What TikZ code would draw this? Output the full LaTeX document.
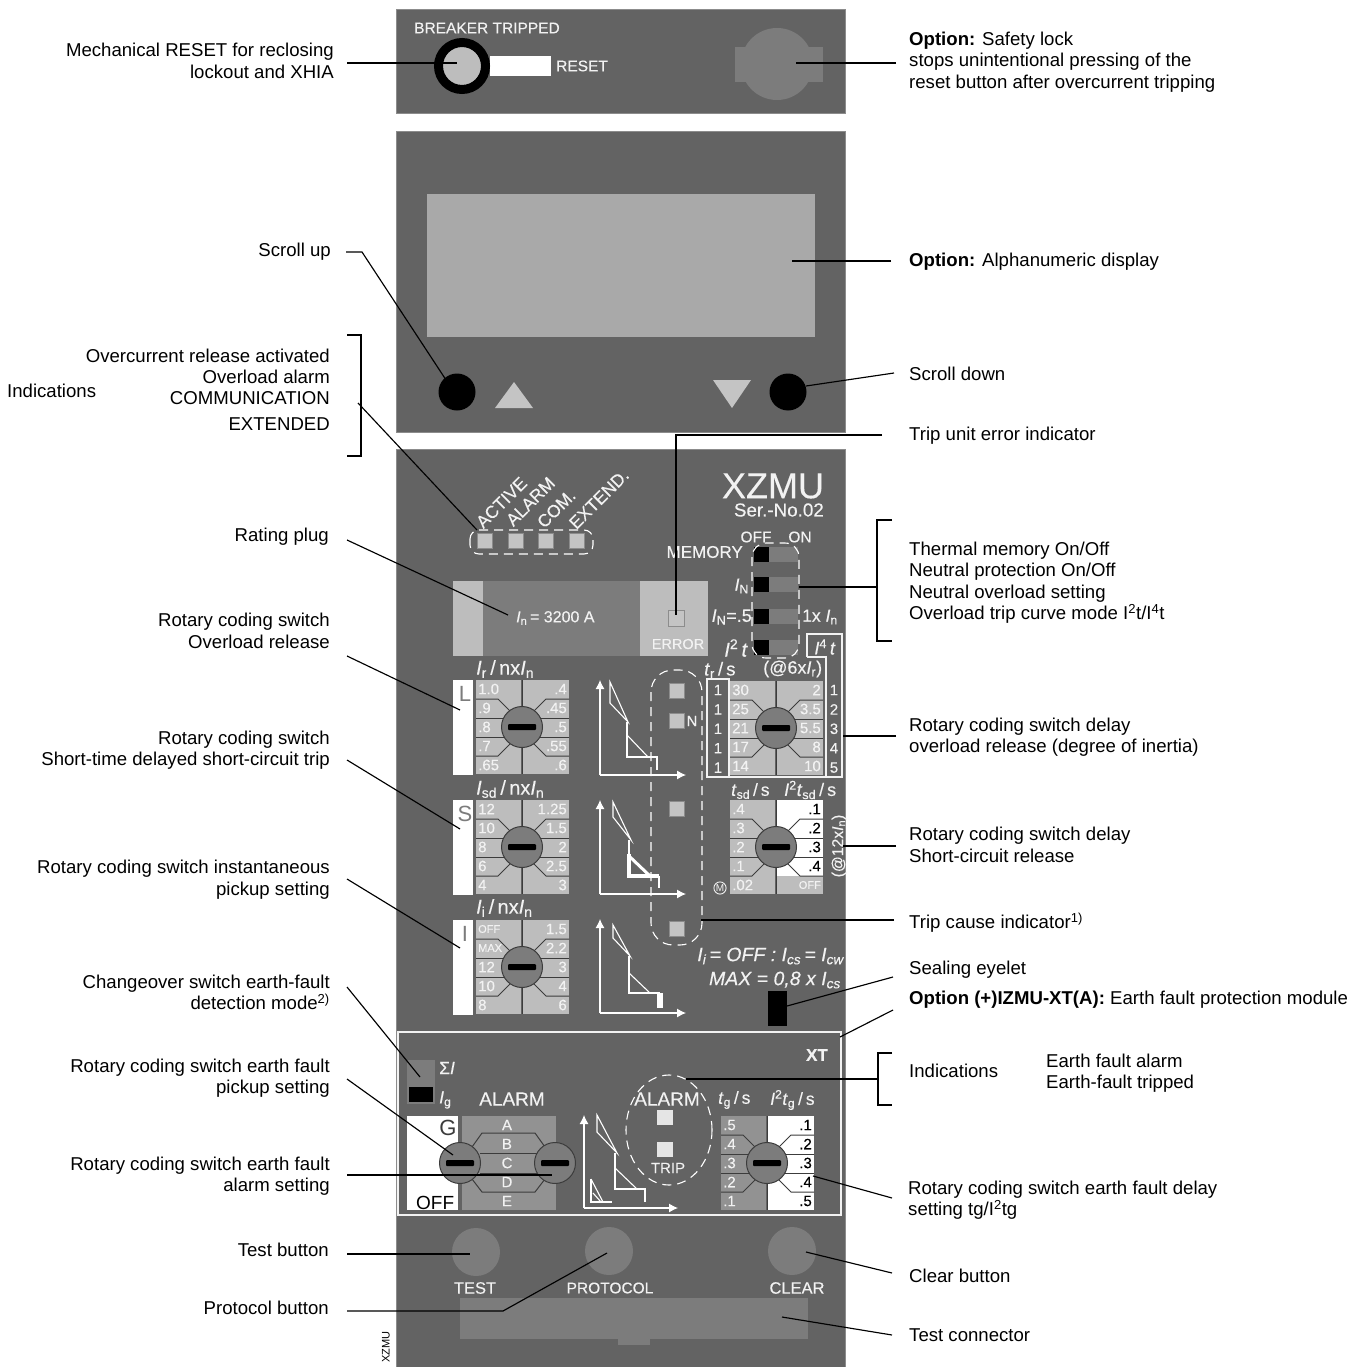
\documentclass[tikz,border=0pt]{standalone}
\usepackage{fontspec}
\setmainfont{Liberation Sans}
\newfontfamily\pf[FakeBold=0.25]{Liberation Sans}
\usetikzlibrary{arrows.meta}
\definecolor{panel}{HTML}{636363}
\definecolor{edge}{HTML}{8C8C8C}
\definecolor{midg}{HTML}{7C7C7C}
\definecolor{cellg}{HTML}{BDBDBD}
\definecolor{gcell}{HTML}{929292}
\definecolor{disp}{HTML}{A9A9A9}
\definecolor{ledg}{HTML}{C4C4C4}
\definecolor{ptext}{HTML}{F2F2F2}
\definecolor{divd}{HTML}{3C3C3C}
\newcommand\lab{\fontsize{18.6}{21.4}\selectfont}
\newcommand\ptA{\fontsize{15}{17}\selectfont}
\newcommand\ptB{\fontsize{17.5}{19}\selectfont}
\newcommand\ptC{\fontsize{15.7}{17}\selectfont}
\newcommand\ptD{\fontsize{20}{22}\selectfont}
\newcommand\isb[2]{\textit{#1}\textsubscript{#2}}
\tikzset{
  x=1pt,y=-1pt,
  lableft/.style={anchor=east,align=right,inner sep=0pt,font=\lab,text=black},
  labright/.style={anchor=west,align=left,inner sep=0pt,font=\lab,text=black},
  ptxt/.style={inner sep=0pt,text=ptext,font=\ptA,execute at begin node=\pf},
  panelbox/.style={fill=panel,draw=edge,line width=0.8pt},
  ledsq/.style={fill=ledg,draw=edge,line width=0.5pt},
  leaderline/.style={draw=black,line width=1.15pt},
  dashwhite/.style={draw=white,line width=1.1pt,dash pattern=on 9pt off 6pt},
  axisline/.style={draw=white,line width=1.1pt,-{Latex[length=9pt,width=9pt]},shorten <=0pt},
  curveline/.style={draw=white,line width=1.1pt},
  divline/.style={draw=divd,line width=1pt},
}
\newcommand\rotbase[8]{%
  \begin{scope}[shift={(#2,#3)}]
    \fill[#4] (-46,-47) rectangle (-1,47);
    \fill[#5] (1,-47) rectangle (47,47);
    #8
    \draw[divline] (0,-47) -- (0,-18) (0,18) -- (0,47);
    \draw[divline] (-46,-28) -- (-24,-28) -- (-12,-16);
    \draw[divline] (-46,-9) -- (-18,-9);
    \draw[divline] (-46,10) -- (-18,10);
    \draw[divline] (-46,29) -- (-24,29) -- (-12,17);
    \draw[divline] (47,-28) -- (24,-28) -- (12,-16);
    \draw[divline] (47,-9) -- (18,-9);
    \draw[divline] (47,10) -- (18,10);
    \draw[divline] (47,29) -- (24,29) -- (12,17);
    \node[name=#1-knob,circle,minimum size=41pt,inner sep=0pt,fill=midg,draw=divd,line width=1pt] at (0,0) {};
    \fill[black,rounded corners=1pt] (-14,-3) rectangle (14,3);
  \end{scope}}
\newcommand\rotlab[7]{%
  \foreach \t [count=\i] in {#6} {\node[ptxt,anchor=west,text=#4,name=#1-l\i] at ({#2-44},{#3-38+19*(\i-1)}) {\t};}
  \foreach \t [count=\i] in {#7} {\node[ptxt,anchor=east,text=#5,name=#1-r\i] at ({#2+45},{#3-38+19*(\i-1)}) {\t};}}
\newcommand\leader[3]{%
  \coordinate (#1-a) at (#2);
  \coordinate (#1-b) at (#3);
  \draw[leaderline] (#1-a) -- (#1-b);}
\begin{document}
\begin{tikzpicture}
\useasboundingbox (0,0) rectangle (1358,1367);
\fill[white] (0,0) rectangle (1358,1367);
% ---- panels
\draw[panelbox] (396,9) rectangle (845,113);
\draw[panelbox] (396,131) rectangle (845,432);
\draw[panelbox] (396,449) rectangle (845,1368);
% ---- top panel
\node[ptxt,anchor=west,font=\fontsize{15.5}{17}\selectfont,name=brk] at (414,28) {BREAKER TRIPPED};
\fill[white] (490,56) rectangle (551,76);
\node[circle,minimum size=47pt,inner sep=0pt,fill=cellg,draw=black,line width=9pt,name=resetbtn] at (462,66) {};
\node[ptxt,anchor=west,font=\fontsize{15.5}{17}\selectfont,name=rst] at (556,66) {RESET};
\fill[midg] (735,47) rectangle (823,82);
\node[circle,minimum size=72pt,inner sep=0pt,fill=midg,name=lockc] at (777,64) {};
% ---- display panel
\fill[disp] (427,194) rectangle (815,337);
\node[circle,minimum size=37pt,inner sep=0pt,fill=black,name=scup] at (457,392) {};
\node[circle,minimum size=37pt,inner sep=0pt,fill=black,name=scdn] at (788,392) {};
\fill[ledg] (514,382) -- (495,408) -- (533,408) -- cycle;
\fill[ledg] (713,380) -- (751,380) -- (732,408) -- cycle;
% ---- trip unit head
\node[ptxt,anchor=center,font=\fontsize{36}{38}\selectfont,name=xzmu] at (773,486) {XZMU};
\node[ptxt,anchor=east,font=\fontsize{18.8}{20}\selectfont,name=serno] at (824,510) {Ser.-No.02};
\node[ptxt,anchor=west,rotate=45,font=\fontsize{17.5}{19}\selectfont,name=t-act] at (479,525) {ACTIVE};
\node[ptxt,anchor=west,rotate=45,font=\fontsize{17.5}{19}\selectfont,name=t-alm] at (509,523) {ALARM};
\node[ptxt,anchor=west,rotate=45,font=\fontsize{17.5}{19}\selectfont,name=t-com] at (540,525) {COM.};
\node[ptxt,anchor=west,rotate=45,font=\fontsize{17.5}{19}\selectfont,name=t-ext] at (572,526) {EXTEND.};
\foreach \x in {477,508,538,569}{\draw[ledsq] (\x,533) rectangle ++(15,15);}
\draw[dashwhite,rounded corners=9pt] (470,530) rectangle (593,554);
% rating plug
\fill[midg] (453,581) rectangle (708,656);
\fill[cellg] (453,581) rectangle (483,656);
\fill[cellg] (640,581) rectangle (708,656);
\node[ptxt,anchor=west,font=\fontsize{16}{18}\selectfont,name=ratingtxt] at (516,618) {\isb{I}{n}\,= 3200 A};
\draw[ledsq] (668,610) rectangle (684,626);
\node[ptxt,anchor=center,font=\fontsize{14.5}{16}\selectfont,name=errtxt] at (678,644) {ERROR};
% toggles
\foreach \y in {547,577,609,640}{
  \fill[midg] (769,\y) rectangle (798,\y+14.5);
  \fill[black] (754,\y) rectangle (769,\y+14.5);
}
\node[ptxt,anchor=east,font=\fontsize{17}{19}\selectfont,name=memt] at (743,552) {MEMORY};
\node[ptxt,anchor=center,font=\fontsize{15.5}{17}\selectfont,name=offt] at (756,537) {OFF};
\node[ptxt,anchor=center,font=\fontsize{15.5}{17}\selectfont,name=ont] at (800,537) {ON};
\node[ptxt,anchor=east,font=\ptB,name=int] at (749,586) {\isb{I}{N}};
\node[ptxt,anchor=east,font=\fontsize{18}{20}\selectfont,name=in5] at (752,617) {\isb{I}{N}=.5};
\node[ptxt,anchor=west,font=\fontsize{17.5}{19}\selectfont,name=onex] at (802,617) {1x \isb{I}{n}};
\node[ptxt,anchor=east,font=\fontsize{20}{22}\selectfont,name=i2t] at (748,648) {\textit{I}\textsuperscript{2}\,\textit{t}};
\draw[dashwhite,rounded corners=14pt] (752,543) rectangle (799,658);
% I4t box
\draw[draw=ptext,line width=1.2pt] (807,657) -- (807,634) -- (842,634) -- (842,777) -- (707,777) -- (707,679) -- (729,679) -- (729,777);
\draw[draw=ptext,line width=1.2pt] (807,657) -- (826,657) -- (826,777);
\node[ptxt,anchor=center,font=\fontsize{18}{20}\selectfont,name=i4t] at (825,647) {\textit{I}\textsuperscript{4}\,\textit{t}};
\foreach \i in {0,...,4}{
  \node[ptxt,anchor=center,name=one\i] at (718,{690+19.4*\i}) {1};
  \pgfmathtruncatemacro{\k}{\i+1}
  \node[ptxt,anchor=center,name=num\i] at (834,{690+19.4*\i}) {\k};
}
\node[ptxt,anchor=west,font=\fontsize{18.6}{20}\selectfont,name=trs] at (704,670) {\isb{t}{r}\,/\,s};
\node[ptxt,anchor=west,font=\fontsize{18}{20}\selectfont,name=at6] at (763,669) {(@6x\isb{I}{r})};
% ---- L S I columns
\foreach \nm/\y/\l in {colL/680/L,colS/800/S,colI/920/I}{
  \fill[white] (453,\y) rectangle (473,\y+95);
  \node[inner sep=0pt,text=midg,font=\fontsize{22}{24}\selectfont,name=\nm] at (465,\y+14) {\l};
}
\rotbase{swL}{522}{727}{cellg}{cellg}{ptext}{ptext}{}
\rotlab{swL}{522}{727}{ptext}{ptext}{1.0,.9,.8,.7,.65}{.4,.45,.5,.55,.6}
\rotbase{swS}{522}{847}{cellg}{cellg}{ptext}{ptext}{}
\rotlab{swS}{522}{847}{ptext}{ptext}{12,10,8,6,4}{1.25,1.5,2,2.5,3}
\rotbase{swI}{522}{967}{cellg}{cellg}{ptext}{ptext}{}
\rotlab{swI}{522}{967}{ptext}{ptext}{\fontsize{11}{12}\selectfont OFF,\fontsize{11}{12}\selectfont MAX,12,10,8}{1.5,2.2,3,4,6}
\rotbase{swT}{776}{728}{cellg}{cellg}{ptext}{ptext}{}
\rotlab{swT}{776}{728}{ptext}{ptext}{30,25,21,17,14}{2,3.5,5.5,8,10}
\rotbase{swD}{776}{847}{cellg}{white}{black}{ptext}{\fill[cellg] (1,29) rectangle (47,47);}
\rotlab{swD}{776}{847}{ptext}{black}{.4,.3,.2,.1,.02}{.1,.2,.3,.4,{\textcolor{ptext}{\fontsize{11}{12}\selectfont OFF}}}
\node[ptxt,anchor=west,font=\ptD,name=irt] at (476,669) {\isb{I}{r}\,/\,nx\isb{I}{n}};
\node[ptxt,anchor=west,font=\ptD,name=isdt] at (476,789) {\isb{I}{sd}\,/\,nx\isb{I}{n}};
\node[ptxt,anchor=west,font=\ptD,name=iit] at (476,908) {\isb{I}{i}\,/\,nx\isb{I}{n}};
\node[ptxt,anchor=west,font=\ptB,name=tsdt] at (731,791) {\isb{t}{sd}\,/\,s};
\node[ptxt,anchor=west,font=\fontsize{18}{20}\selectfont,name=i2tsdt] at (784,790) {\textit{I}\textsuperscript{2}\isb{t}{sd}\,/\,s};
\node[ptxt,anchor=center,rotate=90,font=\ptC,name=at12] at (839,846) {(@12x\isb{I}{n})};
\node[circle,draw=ptext,line width=0.9pt,inner sep=0.5pt,text=ptext,font=\fontsize{10}{11}\selectfont,name=msym] at (720,888) {M};
% ---- trip curves
\begin{scope}[shift={(600,775)}]
  \draw[axisline] (0,0) -- (0,-95);
  \draw[axisline] (0,0) -- (86,0);
  \draw[curveline] (10,-93) -- (10,-72) -- (28,-53) -- cycle;
  \draw[curveline] (27,-53) -- (27,-18) -- (57,-18) -- (57,-5);
  \draw[curveline] (27,-40) -- (48,-18);
\end{scope}
\begin{scope}[shift={(600,894)}]
  \draw[axisline] (0,0) -- (0,-94);
  \draw[axisline] (0,0) -- (86,0);
  \draw[curveline] (13,-92) -- (13,-77) -- (31,-54) -- cycle;
  \draw[curveline] (29,-54) -- (29,-40);
  \draw[curveline,line width=3.4pt] (29,-40) -- (29,-18) -- (59,-18);
  \draw[curveline,line width=3pt] (29,-38) -- (50,-18);
  \draw[curveline] (59,-18) -- (59,-6);
\end{scope}
\begin{scope}[shift={(600,1013)}]
  \draw[axisline] (0,0) -- (0,-94);
  \draw[axisline] (0,0) -- (86,0);
  \draw[curveline] (13,-88) -- (13,-75) -- (30,-57) -- cycle;
  \draw[curveline] (29,-57) -- (29,-20) -- (60,-20);
  \draw[curveline] (29,-40) -- (50,-20);
  \fill[white] (57,-20) rectangle (63,-5);
\end{scope}
% dashed trip cause group
\draw[dashwhite,rounded corners=22pt] (651,670) rectangle (702,945);
\foreach \y in {683,713,801,921}{\draw[ledsq] (669,\y) rectangle ++(15,15);}
\node[ptxt,anchor=center,name=nled] at (692,721) {N};
% formulas
\node[ptxt,anchor=east,font=\fontsize{19.5}{21}\itshape\selectfont,name=fm1] at (844,956) {\isb{I}{i}\,= OFF : \isb{I}{cs}\,= \isb{I}{cw}};
\node[ptxt,anchor=east,font=\fontsize{19.5}{21}\itshape\selectfont,name=fm2] at (841,980) {MAX = 0,8 x \isb{I}{cs}};
\fill[black] (768,991) rectangle (787,1026);
\coordinate (eyelet) at (787,1006);
% ---- XT module
\draw[draw=ptext,line width=1.5pt] (398,1032) rectangle (841,1215);
\node[ptxt,anchor=east,font=\bfseries\fontsize{17}{19}\selectfont,name=xtt] at (828,1055) {XT};
\fill[midg] (407,1060) rectangle (435,1104);
\fill[black] (409,1087) rectangle (433,1102);
\node[ptxt,anchor=west,font=\ptB,name=sigi] at (439,1068) {Σ\textit{I}};
\node[ptxt,anchor=west,font=\ptB,name=igt] at (439,1100) {\isb{I}{g}};
\fill[white] (407,1116) rectangle (458,1210);
\fill[gcell] (462,1116) rectangle (556,1210);
\node[inner sep=0pt,text=divd,font=\fontsize{22}{24}\selectfont,name=gtxt] at (448,1128) {G};
\node[inner sep=0pt,text=black,font=\fontsize{19}{21}\selectfont,anchor=west,name=offg] at (416,1203) {OFF};
\draw[divline] (472,1147) -- (482,1133) -- (535,1133) -- (545,1147);
\draw[divline] (472,1179) -- (482,1192) -- (535,1192) -- (545,1179);
\draw[divline] (480,1153) -- (537,1153);
\draw[divline] (480,1173) -- (537,1173);
\foreach \t [count=\i] in {A,B,C,D,E}{\node[ptxt,anchor=center,name=gl\i] at (507,{1125+19*(\i-1)}) {\t};}
\node[circle,minimum size=41pt,inner sep=0pt,fill=midg,draw=divd,line width=1pt,name=knobG] at (460,1163) {};
\fill[black,rounded corners=1pt] (446,1160) rectangle (474,1166);
\node[circle,minimum size=41pt,inner sep=0pt,fill=midg,draw=divd,line width=1pt,name=knobH] at (555,1163) {};
\fill[black,rounded corners=1pt] (541,1160) rectangle (569,1166);
\node[ptxt,anchor=center,font=\fontsize{19}{21}\selectfont,name=alm1] at (512,1099) {ALARM};
\begin{scope}[shift={(584,1208)}]
  \draw[axisline] (0,0) -- (0,-93);
  \draw[axisline] (0,0) -- (94,0);
  \draw[curveline] (13,-93) -- (13,-76) -- (33,-55) -- cycle;
  \draw[curveline] (31,-55) -- (31,-19) -- (61,-19) -- (61,-6);
  \draw[curveline] (31,-40) -- (53,-19);
  \draw[curveline] (7,-29) -- (7,-6) -- (28,-6);
  \draw[curveline] (7,-29) -- (19,-6);
  \draw[curveline] (9,-15) -- (17,-6);
\end{scope}
\draw[dashwhite] (669,1130) ellipse (43pt and 55pt);
\node[ptxt,anchor=center,font=\fontsize{19}{21}\selectfont,name=alm2] at (667,1099) {ALARM};
\fill[white!90!black] (657,1110) rectangle (673,1125);
\fill[white!90!black] (657,1142) rectangle (673,1157);
\node[ptxt,anchor=center,name=trpt] at (668,1168) {TRIP};
\node[ptxt,anchor=west,font=\ptB,name=tgs] at (718,1100) {\isb{t}{g}\,/\,s};
\node[ptxt,anchor=west,font=\ptB,name=i2tgs] at (770,1100) {\textit{I}\textsuperscript{2}\isb{t}{g}\,/\,s};
\rotbase{swG}{767}{1163}{gcell}{white}{black}{ptext}{}
\rotlab{swG}{767}{1163}{ptext}{black}{.5,.4,.3,.2,.1}{.1,.2,.3,.4,.5}
% ---- bottom buttons
\node[circle,minimum size=48pt,inner sep=0pt,fill=midg,name=btnT] at (476,1252) {};
\node[circle,minimum size=48pt,inner sep=0pt,fill=midg,name=btnP] at (609,1251) {};
\node[circle,minimum size=48pt,inner sep=0pt,fill=midg,name=btnC] at (792,1251) {};
\node[ptxt,anchor=center,font=\fontsize{16.5}{18}\selectfont,name=tt] at (475,1288) {TEST};
\node[ptxt,anchor=center,font=\fontsize{15.5}{17}\selectfont,name=tp] at (610,1288) {PROTOCOL};
\node[ptxt,anchor=center,font=\fontsize{16.5}{18}\selectfont,name=tc] at (797,1288) {CLEAR};
\fill[midg] (460,1298) rectangle (808,1339);
\fill[midg] (618,1339) rectangle (650,1345);
\node[inner sep=0pt,rotate=90,font=\fontsize{11}{12}\selectfont,text=black,name=xzs] at (386,1347) {XZMU};
% ---- left labels
\node[lableft,name=L1] at (334,61) {Mechanical RESET for reclosing\\lockout and XHIA};
\node[lableft,name=L2] at (331,251.5) {Scroll up};
\node[labright,name=L3] at (7,391) {Indications};
\node[lableft,name=L4a] at (330,356) {Overcurrent release activated};
\node[lableft,name=L4b] at (330,377) {Overload alarm};
\node[lableft,name=L4c] at (330,398) {COMMUNICATION};
\node[lableft,name=L4d] at (330,424) {EXTENDED};
\node[lableft,name=L5] at (329,536.5) {Rating plug};
\node[lableft,name=L6] at (330,631) {Rotary coding switch\\Overload release};
\node[lableft,name=L7] at (330,750) {Rotary coding switch\\Short-time delayed short-circuit trip};
\node[lableft,name=L8] at (330,879.5) {Rotary coding switch instantaneous\\pickup setting};
\node[lableft,name=L9] at (330,992.5) {Changeover switch earth-fault\\detection mode\textsuperscript{2)}};
\node[lableft,name=L10] at (330,1078) {Rotary coding switch earth fault\\pickup setting};
\node[lableft,name=L11] at (330,1176) {Rotary coding switch earth fault\\alarm setting};
\node[lableft,name=L12] at (329,1250) {Test button};
\node[lableft,name=L13] at (329,1308) {Protocol button};
% ---- right labels
\node[labright,name=R1] at (909,62) {\textbf{Option:} Safety lock\\stops unintentional pressing of the\\reset button after overcurrent tripping};
\node[labright,name=R2] at (909,262) {\textbf{Option:} Alphanumeric display};
\node[labright,name=R3] at (909,374) {Scroll down};
\node[labright,name=R4] at (909,436) {Trip unit error indicator};
\node[labright,name=R5] at (909,582.5) {Thermal memory On/Off\\Neutral protection On/Off\\Neutral overload setting\\Overload trip curve mode I\textsuperscript{2}t/I\textsuperscript{4}t};
\node[labright,name=R6] at (909,737) {Rotary coding switch delay\\overload release (degree of inertia)};
\node[labright,name=R7] at (909,845) {Rotary coding switch delay\\Short-circuit release};
\node[labright,name=R8] at (909,923) {Trip cause indicator\textsuperscript{1)}};
\node[labright,name=R9] at (909,969.5) {Sealing eyelet};
\node[labright,name=R10] at (909,999.5) {\textbf{Option (+)IZMU-XT(A):} Earth fault protection module};
\node[labright,name=R11] at (909,1071) {Indications};
\node[labright,name=R12] at (1046,1073) {Earth fault alarm\\Earth-fault tripped};
\node[labright,name=R13] at (908,1200) {Rotary coding switch earth fault delay\\setting tg/I\textsuperscript{2}tg};
\node[labright,name=R14] at (909,1276) {Clear button};
\node[labright,name=R15] at (909,1335) {Test connector};
% ---- leaders
\leader{a1}{347,63}{457,63}
\leader{a2}{896,63}{796,63}
\coordinate (a3s) at (346,252); \coordinate (a3m) at (362,252); \coordinate (a3e) at (450,386);
\draw[leaderline] (a3s) -- (a3m) -- (a3e);
\coordinate (b1) at (347,335); \coordinate (b2) at (361,335); \coordinate (b3) at (361,456); \coordinate (b4) at (347,456);
\draw[leaderline] (b1) -- (b2) -- (b3) -- (b4);
\leader{a4}{358,403}{477,530}
\leader{a5}{891,261}{792,261}
\leader{a6}{894,373}{806,386}
\coordinate (a7s) at (882,435); \coordinate (a7m) at (676,435); \coordinate (a7e) at (676,615);
\draw[leaderline] (a7s) -- (a7m) -- (a7e);
\leader{a8}{347,540}{508,615}
\leader{a9}{347,656}{460,710}
\leader{a10}{347,760}{460,829}
\leader{a11}{347,879}{460,948}
\leader{a12}{347,987}{420,1077}
\leader{a13}{347,1079}{453,1155}
\leader{a14}{347,1175}{552,1175}
\leader{a15}{347,1254}{470,1254}
\coordinate (a16s) at (347,1311); \coordinate (a16m) at (503,1311); \coordinate (a16e) at (607,1253);
\draw[leaderline] (a16s) -- (a16m) -- (a16e);
\leader{a17}{892,1273}{806,1252}
\leader{a18}{892,1335}{782,1317}
\leader{a19}{892,1198}{813,1176}
\coordinate (c1) at (892,1053); \coordinate (c2) at (878,1053); \coordinate (c3) at (878,1105); \coordinate (c4) at (892,1105);
\draw[leaderline] (c1) -- (c2) -- (c3) -- (c4);
\leader{a20}{878,1079}{686,1079}
\leader{a21}{893,1010}{840,1037}
\coordinate (a22) at (893,977);
\draw[leaderline] (a22) -- (eyelet);
\leader{a23}{894,920}{701,920}
\leader{a24}{896,846}{843,846}
\leader{a25}{896,736}{843,736}
\coordinate (d1) at (892,520); \coordinate (d2) at (877,520); \coordinate (d3) at (877,641); \coordinate (d4) at (892,641);
\draw[leaderline] (d1) -- (d2) -- (d3) -- (d4);
\leader{a26}{877,587}{799,587}
\end{tikzpicture}
\end{document}
